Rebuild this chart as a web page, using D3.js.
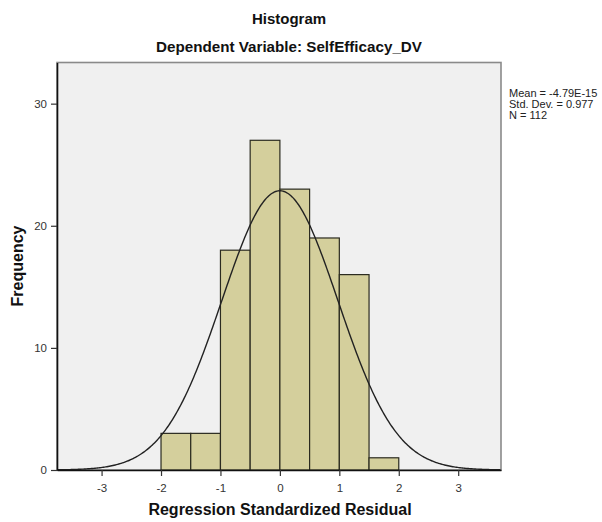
<!DOCTYPE html>
<html>
<head>
<meta charset="utf-8">
<script src="https://cdn.jsdelivr.net/npm/d3@7/dist/d3.min.js"></script>
<style>
body { margin: 0; background: #fff; }
text { font-family: Arial, "Liberation Sans", sans-serif; }
</style>
</head>
<body>
<script>
// bins of the standardized residual (width 0.5) and their counts
var binStarts = [-2, -1.5, -1, -0.5, 0, 0.5, 1, 1.5];
var counts = [3, 3, 18, 27, 23, 19, 16, 1];
var binWidth = 0.5;
var xTicks = [-3, -2, -1, 0, 1, 2, 3];
var yTicks = [0, 10, 20, 30];
var stats = { mean: -4.79e-15, sd: 0.977, n: 112 };
var statLines = ["Mean = -4.79E-15", "Std. Dev. = 0.977", "N = 112"];

var W = 602, H = 522;
var plotL = 57, plotR = 501, plotT = 62.5, plotB = 470;

var x = d3.scaleLinear().domain([-3.75, 3.72]).range([plotL, plotR]);
var y = d3.scaleLinear().domain([0, 33.37]).range([plotB, plotT]);

var svg = d3.select("body").append("svg")
    .attr("width", W)
    .attr("height", H);

svg.append("rect")
    .attr("x", plotL).attr("y", plotT)
    .attr("width", plotR - plotL).attr("height", plotB - plotT)
    .attr("fill", "#f0f0f0")
    .attr("stroke", "#8a8a8a")
    .attr("stroke-width", 1.6);

var data = binStarts.map(function (b, i) { return { x0: b, x1: b + binWidth, n: counts[i] }; });

svg.append("g").selectAll("rect")
    .data(data)
    .enter().append("rect")
    .attr("x", function (d) { return x(d.x0); })
    .attr("y", function (d) { return y(d.n); })
    .attr("width", function (d) { return x(d.x1) - x(d.x0); })
    .attr("height", function (d) { return y(0) - y(d.n); })
    .attr("fill", "#d4cf9c")
    .attr("stroke", "#2b2b20")
    .attr("stroke-width", 1.2);

// fitted normal curve from the reported mean / sd / N
var xs = d3.range(-3.75, 3.72, 0.02);
var curve = xs.map(function (v) {
    var z = (v - stats.mean) / stats.sd;
    return [v, stats.n * binWidth * Math.exp(-0.5 * z * z) / (stats.sd * Math.sqrt(2 * Math.PI))];
});
svg.append("path")
    .datum(curve)
    .attr("fill", "none")
    .attr("stroke", "#222")
    .attr("stroke-width", 1.4)
    .attr("d", d3.line()
        .x(function (d) { return x(d[0]); })
        .y(function (d) { return y(d[1]); }));

var fmt = function (d) { return String(d); };
var xAxis = svg.append("g")
    .attr("transform", "translate(0," + plotB + ")")
    .call(d3.axisBottom(x).tickValues(xTicks).tickSize(6).tickSizeOuter(0).tickFormat(fmt));
var yAxis = svg.append("g")
    .attr("transform", "translate(" + plotL + ",0)")
    .call(d3.axisLeft(y).tickValues(yTicks).tickSize(6).tickSizeOuter(0).tickFormat(fmt));

[xAxis, yAxis].forEach(function (a) {
    a.select(".domain").attr("stroke", "#111").attr("stroke-width", 1.6);
    a.selectAll(".tick line").attr("stroke", "#333").attr("stroke-width", 1.2);
    a.selectAll(".tick text").attr("fill", "#333").style("font-size", "11.5px")
        .style("font-family", "Arial, 'Liberation Sans', sans-serif");
});
xAxis.selectAll(".tick text").attr("dy", "1.1em");
yAxis.selectAll(".tick text").attr("dx", "-1px");

svg.append("text")
    .attr("x", 289).attr("y", 24)
    .attr("text-anchor", "middle")
    .style("font-size", "15px").style("font-weight", "bold")
    .attr("fill", "#111")
    .text("Histogram");

svg.append("text")
    .attr("x", 289).attr("y", 52)
    .attr("text-anchor", "middle")
    .style("font-size", "15.2px").style("font-weight", "bold")
    .attr("fill", "#111")
    .text("Dependent Variable: SelfEfficacy_DV");

svg.append("text")
    .attr("x", 280).attr("y", 515)
    .attr("text-anchor", "middle")
    .style("font-size", "16px").style("font-weight", "bold")
    .attr("fill", "#111")
    .text("Regression Standardized Residual");

svg.append("text")
    .attr("transform", "translate(23,266) rotate(-90)")
    .attr("text-anchor", "middle")
    .style("font-size", "16px").style("font-weight", "bold")
    .attr("fill", "#111")
    .text("Frequency");

svg.append("g").selectAll("text")
    .data(statLines)
    .enter().append("text")
    .attr("x", 509)
    .attr("y", function (d, i) { return 97 + i * 10.8; })
    .style("font-size", "11px")
    .attr("fill", "#222")
    .text(function (d) { return d; });
</script>
</body>
</html>
